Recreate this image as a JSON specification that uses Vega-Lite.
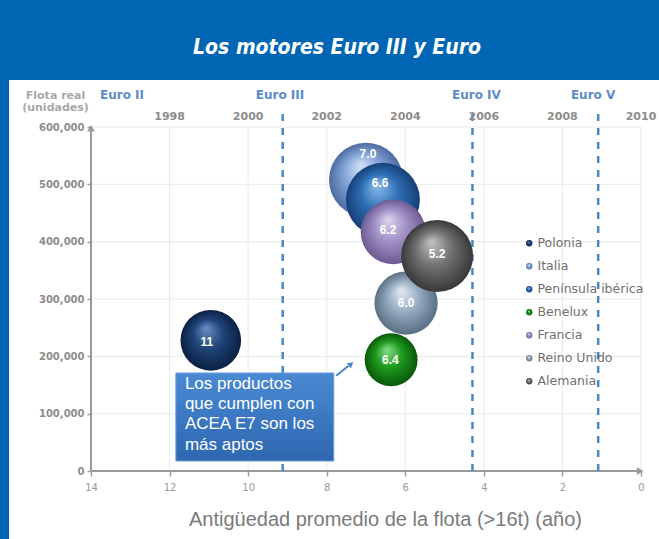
{
  "$schema": "https://vega.github.io/schema/vega-lite/v6.json",
  "width": 650,
  "height": 459,
  "autosize": {"type": "none"},
  "padding": {"left": 9, "top": 80, "right": 0, "bottom": 0},
  "background": "#0066b3",
  "view": {"fill": "#ffffff", "stroke": null},
  "title": {
    "text": "Los motores Euro III y Euro",
    "color": "#ffffff",
    "font": "'DejaVu Sans Condensed', 'Liberation Sans Narrow', 'Liberation Sans', sans-serif",
    "fontSize": 21,
    "fontStyle": "italic",
    "fontWeight": "bold",
    "anchor": "middle",
    "frame": "group",
    "baseline": "middle",
    "offset": 11,
    "dx": 3
  },
  "config": {"font": "Liberation Sans", "view": {"stroke": null}},
  "datasets": {
    "rejilla": [
      {"edad": 12, "edad2": 12, "flota": 0, "flota2": 600000},
      {"edad": 10, "edad2": 10, "flota": 0, "flota2": 600000},
      {"edad": 8, "edad2": 8, "flota": 0, "flota2": 600000},
      {"edad": 6, "edad2": 6, "flota": 0, "flota2": 600000},
      {"edad": 4, "edad2": 4, "flota": 0, "flota2": 600000},
      {"edad": 2, "edad2": 2, "flota": 0, "flota2": 600000},
      {"edad": 0, "edad2": 0, "flota": 0, "flota2": 600000},
      {"edad": 14, "edad2": 0, "flota": 100000, "flota2": 100000},
      {"edad": 14, "edad2": 0, "flota": 200000, "flota2": 200000},
      {"edad": 14, "edad2": 0, "flota": 300000, "flota2": 300000},
      {"edad": 14, "edad2": 0, "flota": 400000, "flota2": 400000},
      {"edad": 14, "edad2": 0, "flota": 500000, "flota2": 500000},
      {"edad": 14, "edad2": 0, "flota": 600000, "flota2": 600000}
    ],
    "ejes": [
      {"edad": 14, "edad2": 14, "flota": 0, "flota2": 600000},
      {"edad": 14, "edad2": 0.05, "flota": 0, "flota2": 0}
    ],
    "flechas": [
      {"eje": "y", "edad": 14, "flota": 598000},
      {"eje": "x", "edad": 0.02, "flota": 0}
    ],
    "normas_lin": [
      {"norma": "Euro III", "edad": 9.12, "flota": 0, "flota2": 628000},
      {"norma": "Euro IV", "edad": 4.29, "flota": 0, "flota2": 628000},
      {"norma": "Euro V", "edad": 1.09, "flota": 0, "flota2": 628000}
    ],
    "normas_txt": [
      {"norma": "Euro II", "edad": 13.21, "flota": 656000},
      {"norma": "Euro III", "edad": 9.19, "flota": 656000},
      {"norma": "Euro IV", "edad": 4.19, "flota": 656000},
      {"norma": "Euro V", "edad": 1.22, "flota": 656000}
    ],
    "anios": [
      {"anio": "1998", "edad": 12, "flota": 617000},
      {"anio": "2000", "edad": 10, "flota": 617000},
      {"anio": "2002", "edad": 8, "flota": 617000},
      {"anio": "2004", "edad": 6, "flota": 617000},
      {"anio": "2006", "edad": 4, "flota": 617000},
      {"anio": "2008", "edad": 2, "flota": 617000},
      {"anio": "2010", "edad": 0, "flota": 617000}
    ],
    "burbujas": [
      {"pais": "Reino Unido", "edad": 5.98, "flota": 293000, "tamano": 1000, "etiqueta": "6.0", "edad_et": 5.98, "flota_et": 293000},
      {"pais": "Italia", "edad": 7.0, "flota": 508000, "tamano": 1369, "etiqueta": "7.0", "edad_et": 6.95, "flota_et": 553000},
      {"pais": "Península ibérica", "edad": 6.57, "flota": 473000, "tamano": 1369, "etiqueta": "6.6", "edad_et": 6.64, "flota_et": 502000},
      {"pais": "Francia", "edad": 6.31, "flota": 417000, "tamano": 1050, "etiqueta": "6.2", "edad_et": 6.44, "flota_et": 420000},
      {"pais": "Alemania", "edad": 5.19, "flota": 375000, "tamano": 1296, "etiqueta": "5.2", "edad_et": 5.19, "flota_et": 378000},
      {"pais": "Benelux", "edad": 6.36, "flota": 194000, "tamano": 700, "etiqueta": "6.4", "edad_et": 6.38, "flota_et": 194000},
      {"pais": "Polonia", "edad": 10.95, "flota": 228000, "tamano": 920, "etiqueta": "11", "edad_et": 11.05, "flota_et": 225000}
    ],
    "nota": [
      {"edad": 11.84, "edad2": 7.82, "flota": 171000, "flota2": 17400, "edad_txt": 11.61, "flota_txt": 166000, "texto": "Los productos\nque cumplen con\nACEA E7 son los\nmás aptos"}
    ],
    "flecha_nota": [
      {"edad": 7.76, "edad2": 7.45, "flota": 166000, "flota2": 183000}
    ],
    "punta_nota": [
      {"edad": 7.38, "flota": 186500}
    ]
  },
  "layer": [
    {
      "data": {"name": "rejilla"},
      "mark": {"type": "rule", "color": "#e9e9e9", "strokeWidth": 1},
      "encoding": {
        "x": {"field": "edad", "type": "quantitative", "scale": {"domain": [16.087, -0.458], "nice": false, "zero": false},
          "axis": {"orient": "bottom", "offset": -68, "values": [14, 12, 10, 8, 6, 4, 2, 0], "format": "d", "domain": false, "grid": false,
            "ticks": true, "tickSize": 5, "tickColor": "#a0a0a0", "tickWidth": 1.5, "labelFlush": false,
            "labelFont": "DejaVu Sans", "labelFontSize": 10, "labelColor": "#999999", "labelPadding": 6,
            "title": "Antigüedad promedio de la flota (>16t) (año)", "titleFont": "Liberation Sans", "titleFontSize": 20,
            "titleFontWeight": "normal", "titleColor": "#7a7a7a", "titlePadding": 17, "titleX": 376, "titleAnchor": "middle"}},
        "x2": {"field": "edad2"},
        "y": {"field": "flota", "type": "quantitative", "scale": {"domain": [-118600, 682000], "nice": false, "zero": false},
          "axis": {"orient": "left", "offset": -82, "values": [0, 100000, 200000, 300000, 400000, 500000, 600000], "format": ",d",
            "domain": false, "grid": false, "ticks": true, "tickSize": 4, "tickColor": "#a0a0a0", "tickWidth": 1.5,
            "labelFont": "DejaVu Sans", "labelFontSize": 10, "labelFontWeight": "bold", "labelColor": "#8c8c8c", "labelPadding": 3,
            "labelFlush": false,
            "title": ["Flota real", "(unidades)"], "titleFont": "DejaVu Sans", "titleFontSize": 11, "titleFontWeight": "bold",
            "titleColor": "#a8a8a8", "titleAngle": 0, "titleAlign": "center", "titleBaseline": "top", "titleX": -36, "titleY": 9,
            "titleLineHeight": 12}},
        "y2": {"field": "flota2"}
      }
    },
    {
      "data": {"name": "ejes"},
      "mark": {"type": "rule", "color": "#9a9a9a", "strokeWidth": 2},
      "encoding": {
        "x": {"field": "edad", "type": "quantitative"},
        "x2": {"field": "edad2"},
        "y": {"field": "flota", "type": "quantitative"},
        "y2": {"field": "flota2"}
      }
    },
    {
      "data": {"name": "flechas"},
      "mark": {"type": "point", "filled": true, "opacity": 1, "color": "#9a9a9a", "size": 60},
      "encoding": {
        "x": {"field": "edad", "type": "quantitative"},
        "y": {"field": "flota", "type": "quantitative"},
        "shape": {"field": "eje", "type": "nominal", "scale": {"domain": ["y", "x"], "range": ["triangle-up", "triangle-right"]}, "legend": null}
      }
    },
    {
      "data": {"name": "normas_lin"},
      "mark": {"type": "rule", "color": "#4a86c8", "strokeWidth": 2.5, "strokeDash": [7, 7]},
      "encoding": {
        "x": {"field": "edad", "type": "quantitative"},
        "y": {"field": "flota", "type": "quantitative"},
        "y2": {"field": "flota2"}
      }
    },
    {
      "data": {"name": "normas_txt"},
      "mark": {"type": "text", "color": "#5b8bc9", "font": "DejaVu Sans", "fontSize": 12, "fontWeight": "bold", "baseline": "middle", "align": "center"},
      "encoding": {
        "x": {"field": "edad", "type": "quantitative"},
        "y": {"field": "flota", "type": "quantitative"},
        "text": {"field": "norma", "type": "nominal"}
      }
    },
    {
      "data": {"name": "anios"},
      "mark": {"type": "text", "color": "#8c8c8c", "font": "DejaVu Sans", "fontSize": 11, "fontWeight": "bold", "baseline": "middle", "align": "center"},
      "encoding": {
        "x": {"field": "edad", "type": "quantitative"},
        "y": {"field": "flota", "type": "quantitative"},
        "text": {"field": "anio", "type": "nominal"}
      }
    },
    {
      "data": {"name": "burbujas"},
      "mark": {"type": "circle", "opacity": 1, "strokeWidth": 0},
      "encoding": {
        "x": {"field": "edad", "type": "quantitative"},
        "y": {"field": "flota", "type": "quantitative"},
        "size": {"field": "tamano", "type": "quantitative", "scale": {"domain": [0, 1369], "range": [0, 5476], "zero": true}, "legend": null},
        "color": {
          "field": "pais", "type": "nominal",
          "scale": {
            "domain": ["Polonia", "Italia", "Península ibérica", "Benelux", "Francia", "Reino Unido", "Alemania"],
            "range": [
              {"expr": "{gradient:'radial',x1:0.42,y1:0.3,r1:0,x2:0.5,y2:0.5,r2:0.5,stops:[{offset:0,color:'#6a8fc4'},{offset:0.5,color:'#1f4377'},{offset:1,color:'#0b2042'}]}"},
              {"expr": "{gradient:'radial',x1:0.42,y1:0.3,r1:0,x2:0.5,y2:0.5,r2:0.5,stops:[{offset:0,color:'#d3e0f5'},{offset:0.5,color:'#86a6da'},{offset:1,color:'#4c6ba1'}]}"},
              {"expr": "{gradient:'radial',x1:0.42,y1:0.3,r1:0,x2:0.5,y2:0.5,r2:0.5,stops:[{offset:0,color:'#8dbcec'},{offset:0.5,color:'#2f6eb5'},{offset:1,color:'#173f78'}]}"},
              {"expr": "{gradient:'radial',x1:0.42,y1:0.3,r1:0,x2:0.5,y2:0.5,r2:0.5,stops:[{offset:0,color:'#88df88'},{offset:0.5,color:'#1f9a1f'},{offset:1,color:'#095809'}]}"},
              {"expr": "{gradient:'radial',x1:0.42,y1:0.3,r1:0,x2:0.5,y2:0.5,r2:0.5,stops:[{offset:0,color:'#ddd4ef'},{offset:0.5,color:'#a090c6'},{offset:1,color:'#6b5b92'}]}"},
              {"expr": "{gradient:'radial',x1:0.42,y1:0.3,r1:0,x2:0.5,y2:0.5,r2:0.5,stops:[{offset:0,color:'#e2ebf3'},{offset:0.5,color:'#97abc0'},{offset:1,color:'#5b6f84'}]}"},
              {"expr": "{gradient:'radial',x1:0.42,y1:0.3,r1:0,x2:0.5,y2:0.5,r2:0.5,stops:[{offset:0,color:'#c4c4c4'},{offset:0.5,color:'#707070'},{offset:1,color:'#383838'}]}"}
            ]
          },
          "legend": {
            "orient": "none", "legendX": 514, "legendY": 157, "title": null, "padding": 0,
            "symbolType": "circle", "symbolSize": 40, "symbolStrokeWidth": 0,
            "labelFont": "DejaVu Sans", "labelFontSize": 12.5, "labelColor": "#707070", "labelOffset": 2,
            "rowPadding": 10
          }
        }
      }
    },
    {
      "data": {"name": "burbujas"},
      "mark": {"type": "text", "color": "#ffffff", "font": "Liberation Sans", "fontSize": 12, "fontWeight": "bold", "align": "center", "baseline": "middle"},
      "encoding": {
        "x": {"field": "edad_et", "type": "quantitative"},
        "y": {"field": "flota_et", "type": "quantitative"},
        "text": {"field": "etiqueta", "type": "nominal"}
      }
    },
    {
      "data": {"name": "nota"},
      "mark": {"type": "rect", "stroke": "#6d9fd8", "strokeWidth": 1,
        "fill": {"gradient": "linear", "x1": 0, "y1": 0, "x2": 0, "y2": 1, "stops": [{"offset": 0, "color": "#4a8ad3"}, {"offset": 1, "color": "#2d67b0"}]}},
      "encoding": {
        "x": {"field": "edad", "type": "quantitative"},
        "x2": {"field": "edad2"},
        "y": {"field": "flota", "type": "quantitative"},
        "y2": {"field": "flota2"}
      }
    },
    {
      "data": {"name": "nota"},
      "mark": {"type": "text", "color": "#ffffff", "font": "Liberation Sans", "fontSize": 17, "align": "left", "baseline": "top", "lineBreak": "\n", "lineHeight": 20.3},
      "encoding": {
        "x": {"field": "edad_txt", "type": "quantitative"},
        "y": {"field": "flota_txt", "type": "quantitative"},
        "text": {"field": "texto", "type": "nominal"}
      }
    },
    {
      "data": {"name": "flecha_nota"},
      "mark": {"type": "rule", "color": "#4a86c8", "strokeWidth": 2},
      "encoding": {
        "x": {"field": "edad", "type": "quantitative"},
        "x2": {"field": "edad2"},
        "y": {"field": "flota", "type": "quantitative"},
        "y2": {"field": "flota2"}
      }
    },
    {
      "data": {"name": "punta_nota"},
      "mark": {"type": "point", "shape": "triangle-up", "filled": true, "opacity": 1, "color": "#4a86c8", "size": 45, "angle": 53},
      "encoding": {
        "x": {"field": "edad", "type": "quantitative"},
        "y": {"field": "flota", "type": "quantitative"}
      }
    }
  ]
}
